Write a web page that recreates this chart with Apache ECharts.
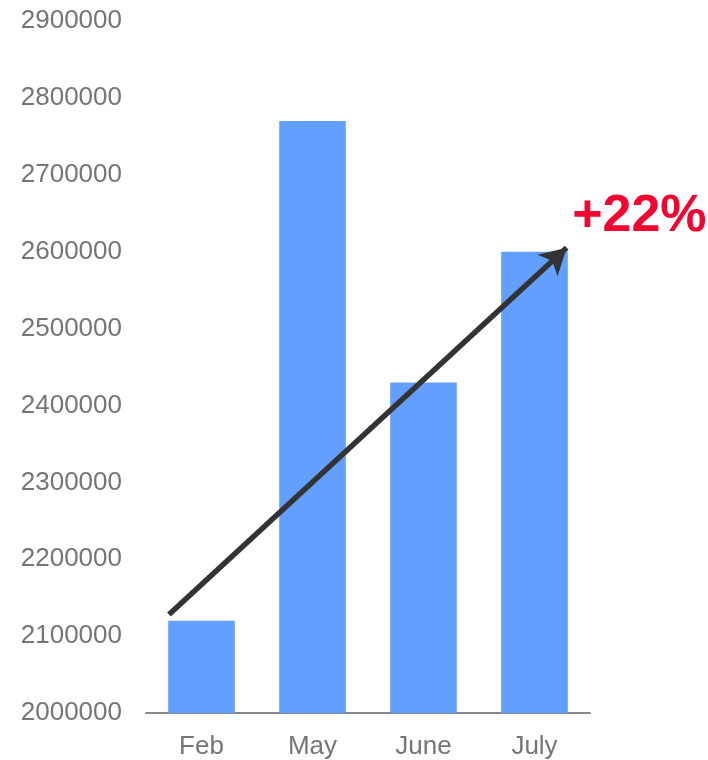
<!DOCTYPE html>
<html>
<head>
<meta charset="utf-8">
<script src="https://cdn.jsdelivr.net/npm/echarts@6/dist/echarts.min.js"></script>
<style>
html,body{margin:0;padding:0;background:#fff;}
#chart{width:708px;height:760px;}
</style>
</head>
<body>
<div id="chart"></div>
<script>
const categories = ['Feb', 'May', 'June', 'July'];
const values = [2120000, 2770000, 2430000, 2600000];
const yMin = 2000000, yMax = 2900000, yStep = 100000;
const arrowStart = [0.207, 2128000];
const arrowEnd = [3.79, 2605000];
const growthLabel = '+22%';

const chart = echarts.init(document.getElementById('chart'));
chart.setOption({
  animation: false,
  grid: { left: 146, right: 118, top: 21, bottom: 45, containLabel: false },
  xAxis: [
    {
      type: 'category', data: categories,
      axisLine: { lineStyle: { color: '#888', width: 2 } },
      axisTick: { show: false },
      axisLabel: { color: '#757575', fontSize: 26, fontFamily: 'Liberation Sans, Arial, sans-serif', margin: 21 }
    },
    { type: 'value', min: 0, max: 4, show: false }
  ],
  yAxis: {
    type: 'value', min: yMin, max: yMax, interval: yStep,
    axisLine: { show: false }, axisTick: { show: false }, splitLine: { show: false },
    axisLabel: {
      color: '#757575', fontSize: 26, fontFamily: 'Liberation Sans, Arial, sans-serif', margin: 24,
      formatter: function (v) { return String(v); }
    }
  },
  series: [
    {
      type: 'bar', data: values, barCategoryGap: '40%',
      itemStyle: { color: '#639FFF' }
    },
    {
      type: 'line', xAxisIndex: 1, data: [], silent: true,
      markLine: {
        silent: true, animation: false,
        symbol: ['none', 'arrow'], symbolSize: [22, 26],
        lineStyle: { color: '#333', width: 5.5, type: 'solid' },
        label: {
          show: true, position: 'end', formatter: growthLabel,
          color: '#F20530', fontSize: 52, fontWeight: 'bold',
          fontFamily: 'Liberation Sans, Arial, sans-serif',
          offset: [69, -28]
        },
        data: [[{ coord: arrowStart }, { coord: arrowEnd }]]
      }
    }
  ]
});
</script>
</body>
</html>
